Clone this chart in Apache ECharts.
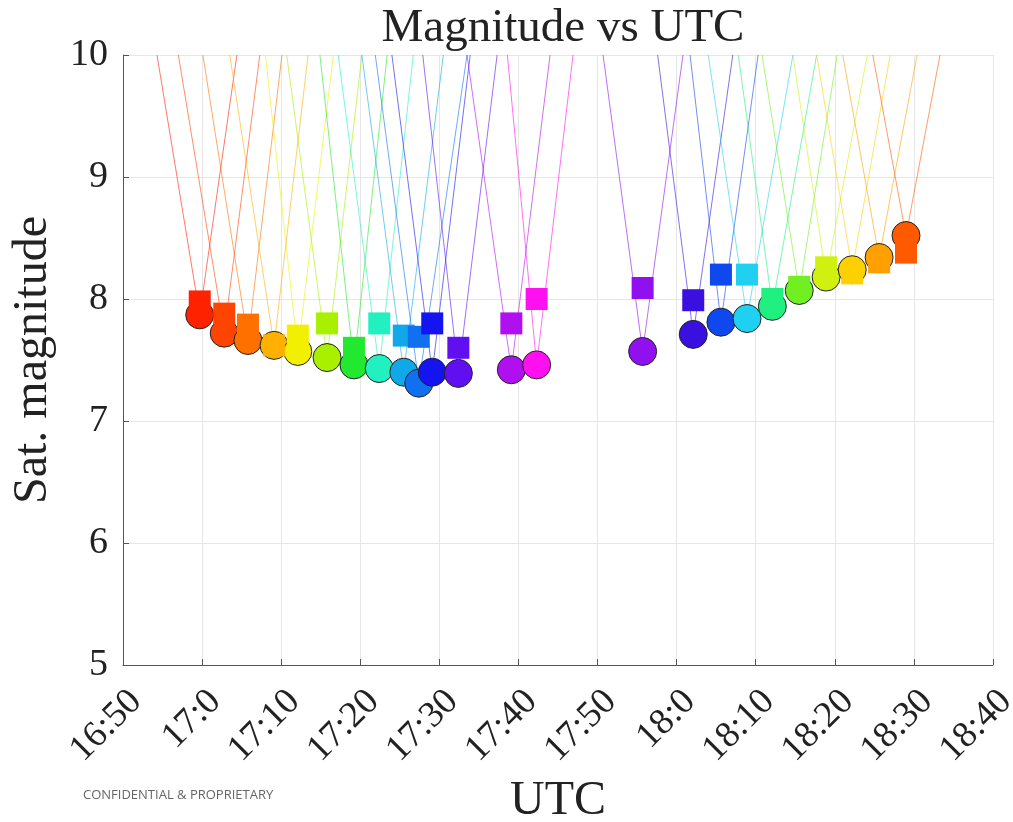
<!DOCTYPE html>
<html>
<head>
<meta charset="utf-8">
<title>Magnitude vs UTC</title>
<script src="https://cdn.jsdelivr.net/npm/echarts@6/dist/echarts.min.js"></script>
<style>
  html, body { margin: 0; padding: 0; background: #fff; }
  #chart { width: 1013px; height: 822px; }
</style>
</head>
<body>
<div id="chart"></div>
<script>
// times are minutes after midnight (UTC)
const xTickLabels = ['16:50', '17:0', '17:10', '17:20', '17:30', '17:40', '17:50', '18:0', '18:10', '18:20', '18:30', '18:40'];
const yTickLabels = ['5', '6', '7', '8', '9', '10'];

// one entry per pass
const passTimes = [1019.7, 1022.8, 1025.8, 1029.1, 1032.1, 1035.8, 1039.2, 1042.4, 1045.5, 1047.4, 1049.1, 1052.4, 1059.1, 1062.3,
  1075.7, 1082.1, 1085.6, 1088.9, 1092.1, 1095.5, 1098.9, 1102.2, 1105.6, 1109.0];
const circleMags = [7.87, 7.72, 7.66, 7.62, 7.57, 7.52, 7.46, 7.43, 7.40, 7.31, 7.40, 7.39, 7.42, 7.46,
  7.57, 7.71, 7.81, 7.84, 7.94, 8.07, 8.18, 8.24, 8.34, 8.52];
const squareMags = [7.98, 7.88, 7.79, 7.62, 7.70, 7.80, 7.60, 7.80, 7.70, 7.69, 7.80, 7.60, 7.80, 8.00,
  8.09, 7.99, 8.20, 8.20, 8.00, 8.10, 8.26, 8.21, 8.30, 8.38];
// where each pass curve leaves / re-enters magnitude 10
const lineStartTimes = [1014.3, 1017.0, 1020.1, 1023.5, 1028.0, 1030.7, 1034.9, 1037.2, 1040.2, 1041.9, 1044.0, 1047.9, 1053.5, 1058.6,
  1070.7, 1077.6, 1081.7, 1084.0, 1087.8, 1090.8, 1094.7, 1097.7, 1101.0, 1104.8];
const lineEndTimes = [1024.4, 1027.3, 1030.1, 1033.4, 1036.6, 1040.2, 1043.4, 1046.7, 1050.5, 1053.5, 1053.9, 1057.3, 1064.0, 1066.9,
  1080.8, 1087.1, 1090.3, 1094.7, 1097.7, 1100.3, 1104.1, 1107.0, 1110.4, 1113.3];
const passColors = ['#ff2200', '#ff4400', '#ff7000', '#ffb000', '#f2f000', '#a8f000', '#22e830', '#22f0c0', '#10a8e8', '#1070f0',
  '#1414f0', '#6010f0', '#b010f0', '#ff10f0',
  '#9010f0', '#3a10e0', '#1048f0', '#20d0f0', '#20f080', '#70f020', '#d0f010', '#ffd000', '#ffa000', '#ff5a00'];

const serif = 'Liberation Serif';

const series = [];
passTimes.forEach((t, i) => {
  series.push({
    type: 'line',
    data: [[lineStartTimes[i], 10], [t, circleMags[i]], [lineEndTimes[i], 10]],
    showSymbol: false,
    symbol: 'none',
    lineStyle: { color: passColors[i], width: 1, opacity: 0.6 },
    z: 1,
    silent: true
  });
});
series.push({
  type: 'scatter',
  symbol: 'circle',
  symbolSize: 28,
  z: 3,
  data: passTimes.map((t, i) => ({
    value: [t, circleMags[i]],
    itemStyle: { color: passColors[i], borderColor: '#222', borderWidth: 1, opacity: 1 }
  }))
});
series.push({
  type: 'scatter',
  symbol: 'rect',
  symbolSize: 22,
  z: 4,
  data: passTimes.map((t, i) => ({
    value: [t, squareMags[i]],
    itemStyle: { color: passColors[i], opacity: 1 }
  }))
});

const chart = echarts.init(document.getElementById('chart'));
chart.setOption({
  animation: false,
  backgroundColor: '#fff',
  title: {
    text: 'Magnitude vs UTC',
    left: 558,
    top: 0,
    textAlign: 'center',
    textStyle: { fontFamily: serif, fontSize: 47, fontWeight: 'normal', color: '#222' }
  },
  grid: { left: 123, right: 20, top: 55, bottom: 157, containLabel: false, outerBoundsMode: 'none' },
  xAxis: {
    type: 'value',
    min: 1010,
    max: 1120,
    interval: 10,
    name: 'UTC',
    nameLocation: 'middle',
    nameGap: 112,
    nameTextStyle: { fontFamily: serif, fontSize: 48, color: '#222' },
    axisLine: { show: true, onZero: false, lineStyle: { color: '#555', width: 1 } },
    axisTick: { show: true, inside: true, length: 6, lineStyle: { color: '#555' } },
    axisLabel: {
      rotate: 45,
      margin: 18,
      verticalAlign: 'top',
      fontFamily: serif,
      fontSize: 37,
      color: '#222',
      formatter: v => xTickLabels[Math.round((v - 1010) / 10)]
    },
    splitLine: { show: true, lineStyle: { color: '#e6e6e6', width: 1 } }
  },
  yAxis: {
    type: 'value',
    min: 5,
    max: 10,
    interval: 1,
    name: 'Sat. magnitude',
    nameLocation: 'middle',
    nameGap: 66,
    nameTextStyle: { fontFamily: serif, fontSize: 48, color: '#222' },
    axisLine: { show: true, lineStyle: { color: '#555', width: 1 } },
    axisTick: { show: true, inside: true, length: 6, lineStyle: { color: '#555' } },
    axisLabel: {
      margin: 15,
      fontFamily: serif,
      fontSize: 38,
      color: '#222',
      formatter: v => yTickLabels[Math.round(v - 5)]
    },
    splitLine: { show: true, lineStyle: { color: '#e6e6e6', width: 1 } }
  },
  graphic: [{
    type: 'text',
    left: 83,
    top: 789,
    style: { text: 'CONFIDENTIAL & PROPRIETARY', fontFamily: 'Open Sans', fontSize: 13, fill: '#666' }
  }],
  series: series
});
</script>
</body>
</html>
